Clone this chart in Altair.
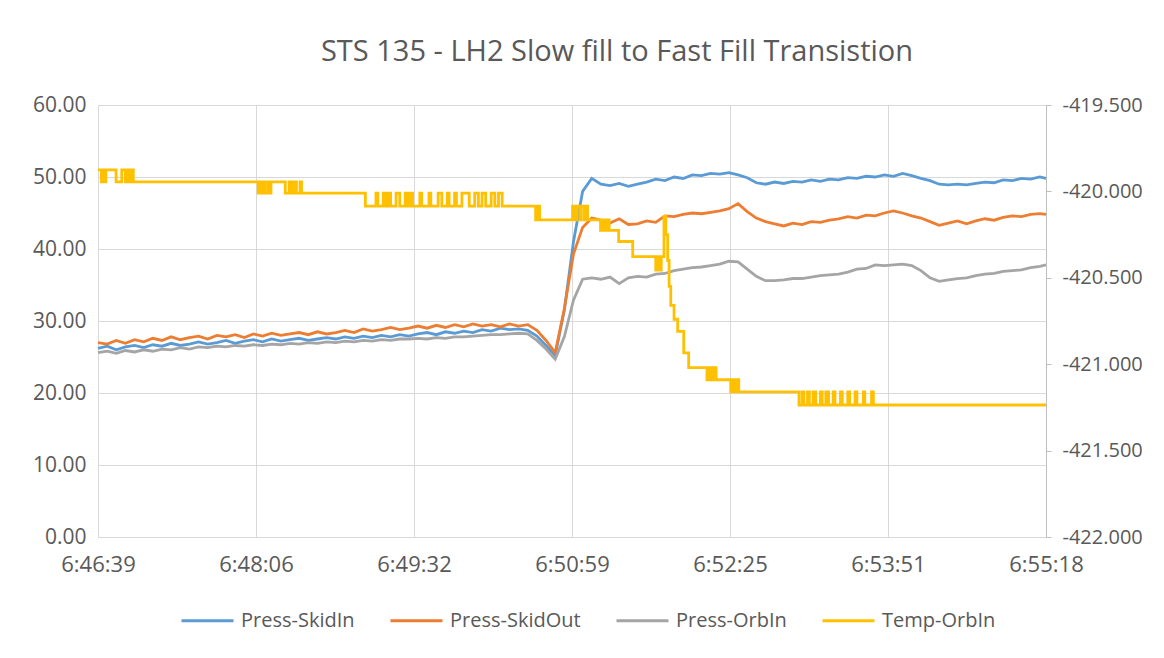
import altair as alt
import pandas as pd

TITLE = "STS 135 - LH2 Slow fill to Fast Fill Transistion"
SERIES = ["Press-SkidIn", "Press-SkidOut", "Press-OrbIn", "Temp-OrbIn"]
COLORS = ["#5B9BD5", "#ED7D31", "#A5A5A5", "#FFC000"]

X_TICK_LABELS = ["6:46:39", "6:48:06", "6:49:32", "6:50:59", "6:52:25", "6:53:51", "6:55:18"]
X_TICK_VALUES = [0, 86.4, 172.8, 259.2, 345.6, 432.0, 518.4]
X_TICK_STEP = 86.4
P_TICKS = [0, 10, 20, 30, 40, 50, 60]
T_TICKS = [-422.0, -421.5, -421.0, -420.5, -420.0, -419.5]

# seconds after 6:46:39
TIME_S = [0, 5, 10, 15, 20, 25, 30, 35, 40, 45,
          50, 55, 60, 65, 70, 75, 80, 85, 90, 95,
          100, 105, 110, 115, 120, 125, 130, 135, 140, 145,
          150, 155, 160, 165, 170, 175, 180, 185, 190, 195,
          200, 205, 210, 215, 220, 225, 230, 235, 240, 245,
          250, 255, 260, 265, 270, 275, 280, 285, 290, 295,
          300, 305, 310, 315, 320, 325, 330, 335, 340, 345,
          350, 355, 360, 365, 370, 375, 380, 385, 390, 395,
          400, 405, 410, 415, 420, 425, 430, 435, 440, 445,
          450, 455, 460, 465, 470, 475, 480, 485, 490, 495,
          500, 505, 510, 515, 518.4]

PRESS_SKID_IN = [26.2, 26.5, 26.0, 26.4, 26.6, 26.3, 26.7, 26.5, 26.9, 26.6,
                 26.8, 27.1, 26.8, 27.0, 27.3, 26.9, 27.2, 27.4, 27.1, 27.5,
                 27.2, 27.4, 27.6, 27.3, 27.5, 27.7, 27.5, 27.8, 27.6, 27.9,
                 27.7, 28.0, 27.8, 28.1, 27.9, 28.2, 28.4, 28.1, 28.5, 28.3,
                 28.6, 28.4, 28.8, 28.6, 29.0, 28.8, 28.9, 28.7, 27.9, 26.6,
                 25.2, 31.5, 41.0, 48.0, 49.8, 49.0, 48.8, 49.1, 48.7, 49.0,
                 49.3, 49.7, 49.5, 50.0, 49.8, 50.3, 50.2, 50.5, 50.4, 50.6,
                 50.3, 49.9, 49.2, 49.0, 49.3, 49.1, 49.4, 49.3, 49.6, 49.4,
                 49.7, 49.6, 49.9, 49.8, 50.1, 50.0, 50.3, 50.1, 50.5, 50.2,
                 49.8, 49.5, 49.0, 48.9, 49.0, 48.9, 49.1, 49.3, 49.2, 49.6,
                 49.5, 49.8, 49.7, 50.0, 49.8]

PRESS_SKID_OUT = [27.0, 26.8, 27.3, 26.9, 27.4, 27.1, 27.6, 27.3, 27.8, 27.4,
                  27.7, 27.9, 27.5, 28.0, 27.8, 28.1, 27.7, 28.2, 27.9, 28.3,
                  28.0, 28.2, 28.4, 28.1, 28.5, 28.2, 28.4, 28.7, 28.4, 28.9,
                  28.6, 28.8, 29.1, 28.8, 29.0, 29.3, 29.0, 29.4, 29.1, 29.5,
                  29.2, 29.6, 29.3, 29.5, 29.2, 29.6, 29.3, 29.5, 28.7, 27.3,
                  25.6, 31.7, 39.3, 43.0, 44.3, 44.0, 43.6, 44.2, 43.4, 43.5,
                  43.9, 43.7, 44.6, 44.5, 44.8, 45.0, 44.9, 45.1, 45.3, 45.6,
                  46.3, 45.2, 44.3, 43.8, 43.5, 43.2, 43.6, 43.4, 43.8, 43.7,
                  44.0, 44.2, 44.5, 44.3, 44.7, 44.6, 45.0, 45.3, 45.0, 44.6,
                  44.3, 43.8, 43.3, 43.6, 43.9, 43.5, 43.9, 44.2, 44.0, 44.4,
                  44.6, 44.5, 44.8, 44.9, 44.8]

PRESS_ORB_IN = [25.6, 25.8, 25.5, 25.9, 25.7, 26.0, 25.8, 26.1, 26.0, 26.3,
                26.1, 26.4, 26.3, 26.5, 26.4, 26.6, 26.5, 26.7, 26.6, 26.8,
                26.7, 26.9, 26.8, 27.0, 26.9, 27.1, 27.0, 27.2, 27.1, 27.3,
                27.2, 27.4, 27.3, 27.5, 27.5, 27.6, 27.5, 27.7, 27.6, 27.8,
                27.8, 27.9, 28.0, 28.1, 28.1, 28.2, 28.3, 28.2, 27.3, 26.1,
                24.7, 27.8, 32.9, 35.8, 36.0, 35.8, 36.1, 35.2, 36.0, 36.2,
                36.1, 36.5, 36.6, 37.0, 37.2, 37.4, 37.5, 37.7, 37.9, 38.3,
                38.2, 37.2, 36.2, 35.6, 35.6, 35.7, 35.9, 35.9, 36.1, 36.3,
                36.4, 36.5, 36.8, 37.2, 37.3, 37.8, 37.7, 37.8, 37.9, 37.7,
                37.0, 36.0, 35.5, 35.7, 35.9, 36.0, 36.3, 36.5, 36.6, 36.9,
                37.0, 37.1, 37.4, 37.6, 37.8]

# Temperature (secondary axis): times at which the quantised reading changes
TEMP_TIME = [0, 1.8, 2.5, 3.6, 4.3, 9.9, 13.0, 15.0, 15.8, 17.2, 17.9, 19.3,
             87.6, 89.0, 89.7, 90.5, 91.4, 93.0, 94.0, 94.6, 102.4, 104.5, 106.0, 107.5, 108.5, 110.5, 111.3,
             146.2, 152.0, 153.0, 156.0, 157.0, 158.5, 160.0, 163.0, 165.0, 168.0, 169.5, 171.0, 172.0,
             176.0, 177.0, 181.0, 182.0, 186.0, 188.0, 191.0, 192.0, 195.0, 196.0, 199.0, 203.0,
             206.0, 208.0, 210.0, 212.0, 215.0, 217.0, 219.0, 221.0,
             239.3, 240.4, 241.5,
             259.5, 261.0, 261.8, 263.5, 264.3, 266.0, 266.6, 267.7,
             274.8, 276.0, 277.0, 278.5, 279.5,
             284.7, 292.4, 305.0, 306.2, 307.0, 308.0,
             309.5, 310.5, 311.5, 312.3, 313.2, 315.0, 317.0, 320.3, 323.0,
             333.0, 334.0, 335.5, 336.5, 338.0,
             346.0, 347.0, 348.5, 349.3, 350.4,
             383.3, 385.0, 386.0, 388.0, 389.0, 391.0, 392.5, 395.0, 396.0, 398.0, 399.5,
             402.0, 403.0, 406.0, 407.0, 410.0, 411.0, 414.0, 415.0, 418.5, 419.3, 423.0, 424.0,
             518.4]

TEMP_ORB_IN = [-419.875, -419.945, -419.875, -419.945, -419.875, -419.945, -419.875, -419.945, -419.875, -419.945, -419.875, -419.945,
               -420.01, -419.945, -420.01, -419.945, -420.01, -419.945, -420.01, -419.945, -420.01, -419.945, -420.01, -419.945, -420.01, -419.945, -420.01,
               -420.085, -420.01, -420.085, -420.01, -420.085, -420.01, -420.085, -420.01, -420.085, -420.01, -420.085, -420.01, -420.085,
               -420.01, -420.085, -420.01, -420.085, -420.01, -420.085, -420.01, -420.085, -420.01, -420.085, -420.01, -420.085,
               -420.01, -420.085, -420.01, -420.085, -420.01, -420.085, -420.01, -420.085,
               -420.165, -420.085, -420.165,
               -420.085, -420.165, -420.085, -420.165, -420.085, -420.165, -420.085, -420.165,
               -420.225, -420.165, -420.225, -420.165, -420.225,
               -420.29, -420.378, -420.455, -420.378, -420.455, -420.378,
               -420.145, -420.25, -420.40, -420.55, -420.66, -420.74, -420.81, -420.935, -421.02,
               -421.09, -421.02, -421.09, -421.02, -421.09,
               -421.16, -421.09, -421.16, -421.09, -421.16,
               -421.236, -421.16, -421.236, -421.16, -421.236, -421.16, -421.236, -421.16, -421.236, -421.16, -421.236,
               -421.16, -421.236, -421.16, -421.236, -421.16, -421.236, -421.16, -421.236, -421.16, -421.236, -421.16, -421.236,
               -421.236]

FONT = "Open Sans"
TEXT = "#595959"
GRID = "#D9D9D9"
Y_LABEL_SIZE = 21
R_LABEL_SIZE = 20
X_LABEL_SIZE = 22
LEGEND_LABEL_SIZE = 20

press_rows = []
for name, vals in zip(SERIES[:3], [PRESS_SKID_IN, PRESS_SKID_OUT, PRESS_ORB_IN]):
    for t, v in zip(TIME_S, vals):
        press_rows.append({"t": t, "value": v, "series": name})
press_df = pd.DataFrame(press_rows)
temp_df = pd.DataFrame({"t": TEMP_TIME, "value": TEMP_ORB_IN, "series": SERIES[3]})

label_expr = f"{X_TICK_LABELS}[round(datum.value / {X_TICK_STEP})]"

x_enc = alt.X(
    "t:Q",
    scale=alt.Scale(domain=[0, 518.4], nice=False, zero=False),
    axis=alt.Axis(values=X_TICK_VALUES, labelExpr=label_expr, title=None, grid=True,
                  gridColor=GRID, ticks=False, domainColor=GRID, labelPadding=17,
                  labelFlush=False, labelFont=FONT, labelFontSize=X_LABEL_SIZE,
                  labelColor=TEXT),
)

color_enc = alt.Color(
    "series:N",
    scale=alt.Scale(domain=SERIES, range=COLORS),
    legend=alt.Legend(orient="none", legendX=82, legendY=488, direction="horizontal",
                      title=None, symbolType="stroke", symbolSize=2704, symbolStrokeWidth=3,
                      labelOffset=6, columnPadding=29, labelFontSize=LEGEND_LABEL_SIZE,
                      labelFont=FONT, labelColor=TEXT),
)

press = alt.Chart(press_df).mark_line(strokeWidth=2.8).encode(
    x=x_enc,
    y=alt.Y("value:Q", scale=alt.Scale(domain=[0, 60], nice=False),
            axis=alt.Axis(values=P_TICKS, format=".2f", title=None, grid=True, gridColor=GRID,
                          ticks=False, domain=False, labelPadding=12, orient="left",
                          labelFont=FONT, labelFontSize=Y_LABEL_SIZE, labelColor=TEXT)),
    color=color_enc,
    order=alt.Order("t:Q"),
)

temp = alt.Chart(temp_df).mark_line(strokeWidth=2.8, interpolate="step-after").encode(
    x=x_enc,
    y=alt.Y("value:Q", scale=alt.Scale(domain=[-422, -419.5], nice=False, zero=False),
            axis=alt.Axis(values=T_TICKS, format=".3f",
                          labelExpr="replace(format(datum.value, '.3f'), '\u2212', '-')",
                          title=None, grid=False, ticks=True,
                          tickSize=5, tickColor="#BFBFBF", domain=True, domainColor="#BFBFBF",
                          labelPadding=11, orient="right",
                          labelFont=FONT, labelFontSize=R_LABEL_SIZE, labelColor=TEXT)),
    color=color_enc,
    order=alt.Order("t:Q"),
)

chart = (
    alt.layer(press, temp)
    .resolve_scale(y="independent")
    .properties(
        width=948,
        height=432,
        autosize=alt.AutoSizeParams(type="none"),
        padding={"left": 90, "top": 97, "right": 106, "bottom": 100},
        background="white",
        title=alt.TitleParams(TITLE, anchor="middle", frame="group", dx=45, offset=27,
                              fontSize=29, font=FONT, fontWeight="normal", color=TEXT),
    )
    .configure_view(stroke=None)
)

chart.save("out.html", embed_options={"renderer": "svg", "actions": False})
